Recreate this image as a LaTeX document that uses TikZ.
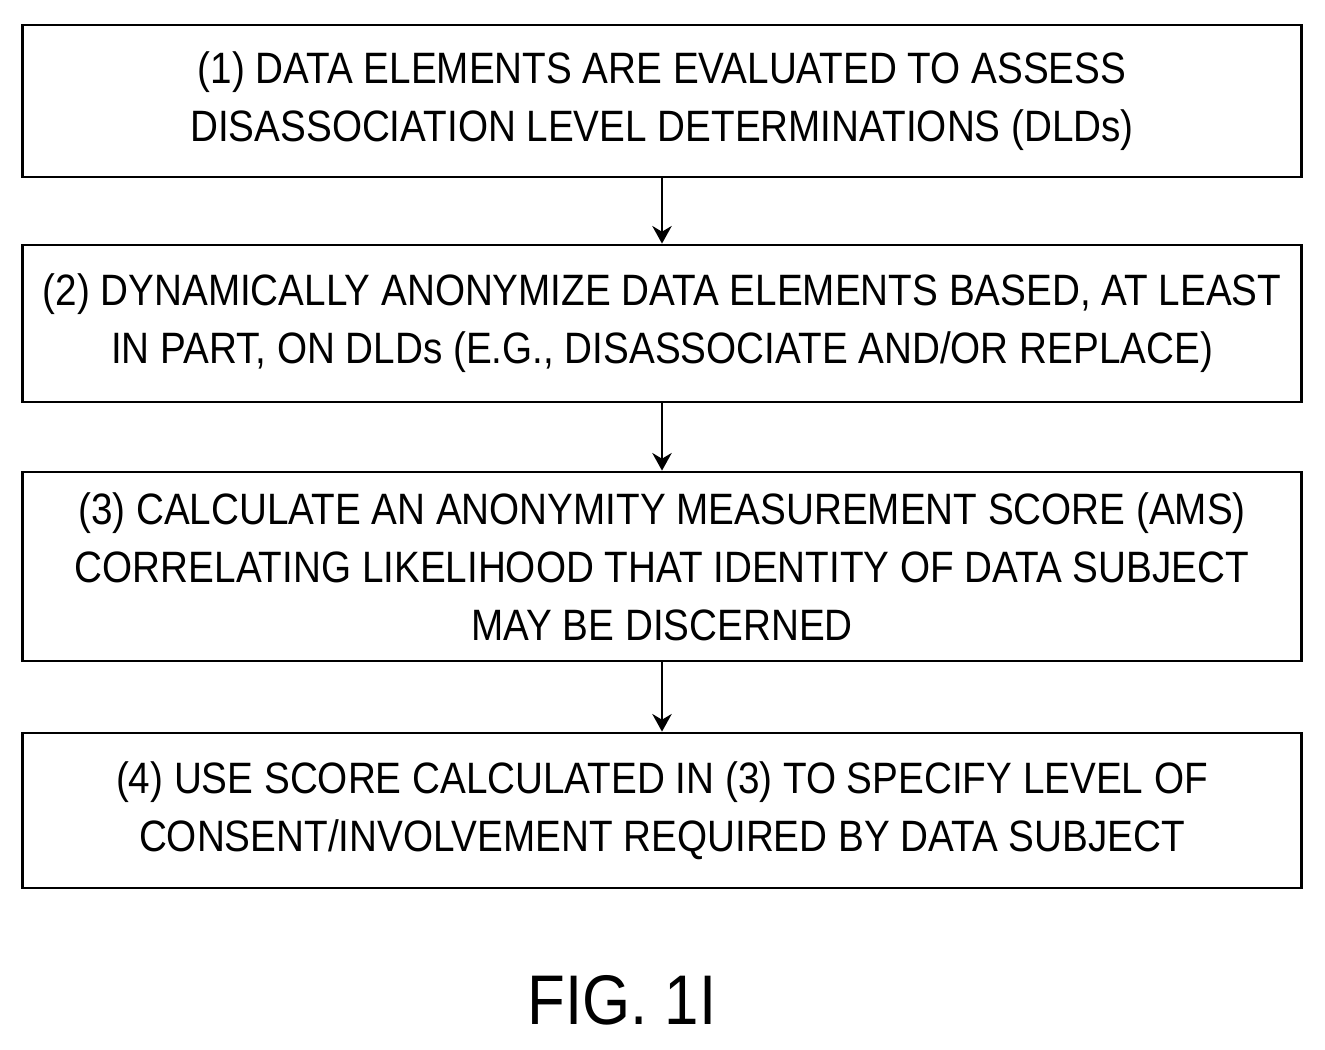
\documentclass[tikz,border=0pt]{standalone}
\usepackage{fontspec}
\setmainfont[FakeStretch=0.88]{Liberation Sans}
\usetikzlibrary{arrows.meta}
\tikzset{
  stepbox/.style = {shape=rectangle, draw, line width=1.6pt, align=center,
                    minimum width=25.6cm, inner sep=0pt,
                    font=\fontsize{25}{33}\selectfont},
  flow/.style    = {draw, line width=1.6pt, -{Stealth[length=10pt,width=11pt]}}
}
\begin{document}
\begin{tikzpicture}[x=0.02cm,y=0.02cm]
\useasboundingbox (0,0) rectangle (1325,1049);
\node[stepbox, minimum height=3.04cm] (s1) at (662,948)
  {(1) DATA ELEMENTS ARE EVALUATED TO ASSESS\\DISASSOCIATION LEVEL DETERMINATIONS (DLDs)};
\node[stepbox, minimum height=3.14cm] (s2) at (662,725.5)
  {(2) DYNAMICALLY ANONYMIZE DATA ELEMENTS BASED, AT LEAST\\IN PART, ON DLDs (E.G., DISASSOCIATE AND/OR REPLACE)};
\node[stepbox, minimum height=3.78cm] (s3) at (662,482.5)
  {(3) CALCULATE AN ANONYMITY MEASUREMENT SCORE (AMS)\\CORRELATING LIKELIHOOD THAT IDENTITY OF DATA SUBJECT\\MAY BE DISCERNED};
\node[stepbox, minimum height=3.1cm] (s4) at (662,238.5)
  {(4) USE SCORE CALCULATED IN (3) TO SPECIFY LEVEL OF\\CONSENT/INVOLVEMENT REQUIRED BY DATA SUBJECT};
\node[font=\fontsize{40}{48}\selectfont] (fig) at (622,49) {FIG. 1I};
% connectors
\draw[flow] (s1) -- (s2);
\draw[flow] (s2) -- (s3);
\draw[flow] (s3) -- (s4);
\end{tikzpicture}
\end{document}
